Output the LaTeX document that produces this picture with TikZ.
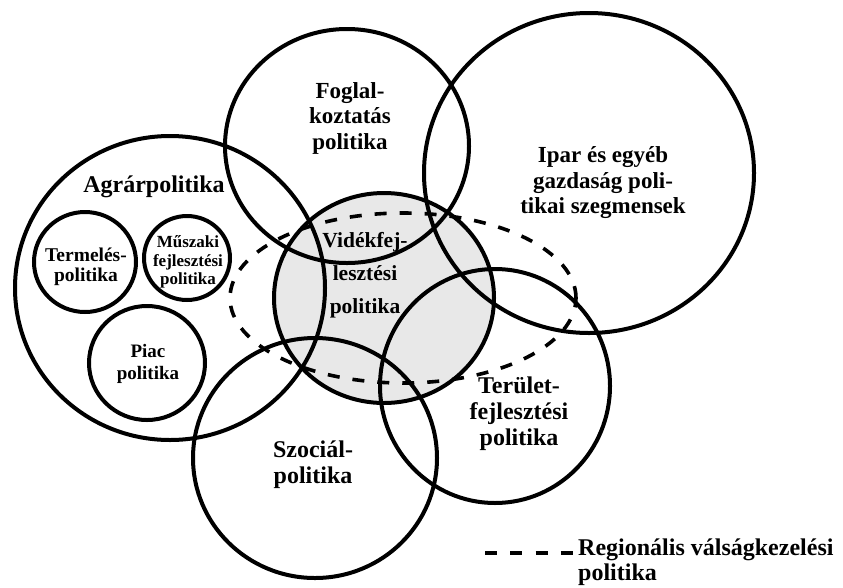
\documentclass[tikz,border=0pt]{standalone}
\usepackage{fontspec}
\setmainfont{Liberation Serif}
\begin{document}
\begin{tikzpicture}[x=1pt,y=-1pt,
  ring/.style={line width=4pt},
  dashring/.style={line width=3.6pt, dash pattern=on 12pt off 13pt},
  lbl/.style={align=center, inner sep=0pt, font=\fontsize{23}{25.5}\selectfont\bfseries},
  slbl/.style={align=center, inner sep=0pt}]
\useasboundingbox (0,0) rectangle (843,587);
% shaded rural development circle
\fill[black!9] (384,298) ellipse [x radius=110pt, y radius=105pt];
% circles
\draw[ring] (170,288) ellipse [x radius=155pt, y radius=152pt];
\draw[ring] (85,262) ellipse [x radius=51pt, y radius=50pt];
\draw[ring] (187,258) ellipse [x radius=43pt, y radius=42pt];
\draw[ring] (147,363) ellipse [x radius=58pt, y radius=57pt];
\draw[ring] (347,146) ellipse [x radius=122pt, y radius=117pt];
\draw[ring] (589,173) ellipse [x radius=165pt, y radius=160pt];
\draw[ring] (384,298) ellipse [x radius=110pt, y radius=105pt];
\draw[ring] (495,386) ellipse [x radius=115pt, y radius=117pt];
\draw[ring] (315,458) ellipse [x radius=122pt, y radius=120pt];
% regional crisis management (dashed)
\draw[dashring] (403,298) ellipse [x radius=173pt, y radius=85pt];
% labels
\node[lbl, font=\fontsize{24}{26}\selectfont\bfseries] (agrar) at (154,187) {Agrárpolitika};
\node[slbl, font=\fontsize{19.5}{20}\selectfont\bfseries] (termeles) at (86,267) {Termelés-\\politika};
\node[slbl, font=\fontsize{17}{18.5}\selectfont\bfseries] (muszaki) at (188,262) {Műszaki\\fejlesztési\\politika};
\node[slbl, font=\fontsize{19}{22}\selectfont\bfseries] (piac) at (148,364) {Piac\\politika};
\node[lbl] (foglal) at (350,118) {Foglal-\\koztatás\\politika};
\node[lbl] (ipar) at (603,183) {Ipar és egyéb\\gazdaság poli-\\tikai szegmensek};
\node[lbl, font=\fontsize{21.5}{33}\selectfont\bfseries] (videk) at (365,275) {Vidékfej-\\lesztési\\politika};
\node[lbl, font=\fontsize{24}{26}\selectfont\bfseries] (terulet) at (519,414) {Terület-\\fejlesztési\\politika};
\node[lbl, font=\fontsize{24}{26}\selectfont\bfseries] (szocial) at (313,465) {Szociál-\\politika};
% legend
\coordinate (lgA) at (485,553);
\coordinate (lgB) at (573,553);
\draw[line width=4.8pt, dash pattern=on 12pt off 13.3pt] (lgA) -- (lgB);
\node[align=left, inner sep=0pt, anchor=west, font=\fontsize{24}{25}\selectfont\bfseries] (legend) at (578,562) {Regionális válságkezelési\\politika};
\end{tikzpicture}
\end{document}
